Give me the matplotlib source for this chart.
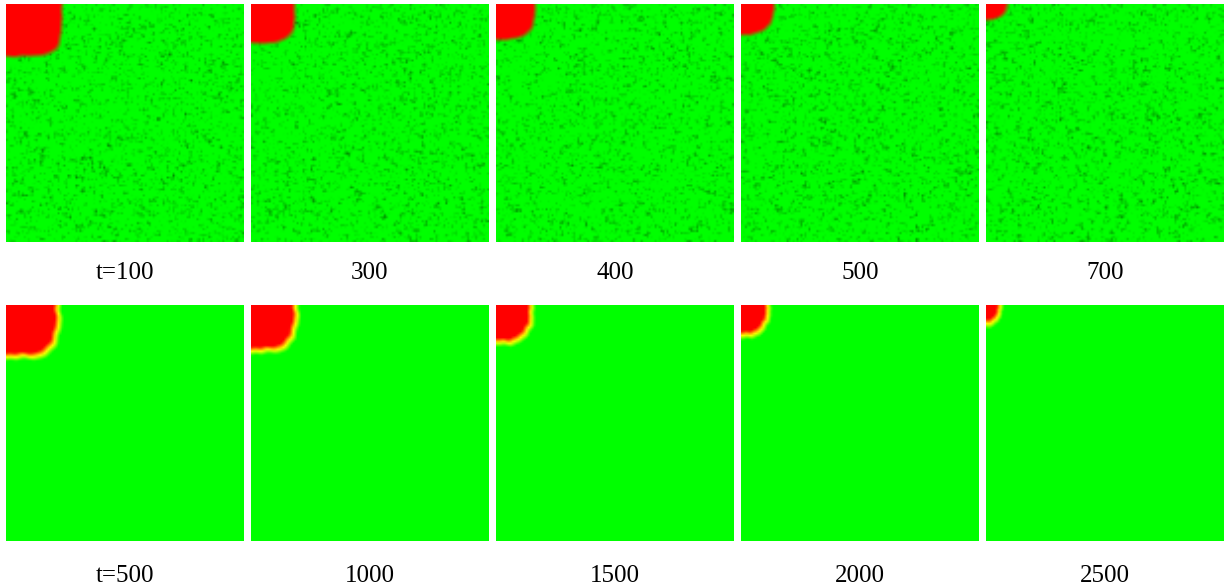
import numpy as np
import matplotlib
matplotlib.use("Agg")
import matplotlib.pyplot as plt

# ---- data ----
top_labels = ["t=100", "300", "400", "500", "700"]
top_rx = [0.235, 0.185, 0.165, 0.14, 0.09]     # red corner extent (fraction of panel width)
top_ry = [0.22, 0.165, 0.15, 0.13, 0.067]      # red corner extent (fraction of panel height)
top_p = [5.0, 4.0, 3.2, 2.6, 2.2]              # corner squareness

bot_labels = ["t=500", "1000", "1500", "2000", "2500"]
bot_rx = [0.22, 0.19, 0.15, 0.115, 0.06]
bot_ry = [0.22, 0.195, 0.16, 0.13, 0.08]
bot_p = [4.0, 3.5, 3.0, 2.6, 2.2]

N = 120
yy, xx = np.mgrid[0:N, 0:N]
X = (xx + 0.5) / N
Y = (yy + 0.5) / N
ang = np.arctan2(Y, X)
rng = np.random.default_rng(7)


def smooth(a, k=1):
    out = a.copy()
    for _ in range(k):
        out = (out + np.roll(out, 1, 0) + np.roll(out, -1, 0)
               + np.roll(out, 1, 1) + np.roll(out, -1, 1)) / 5.0
    return out


def corner_field(rx, ry, p, width, wav):
    d = ((X / rx) ** p + (Y / ry) ** p) ** (1.0 / p)
    ph = rng.uniform(0, 2 * np.pi, 4)
    pert = wav * (np.sin(9 * ang + ph[0]) * 0.5 + np.sin(17 * ang + ph[1]) * 0.35
                  + np.sin(27 * ang + ph[2]) * 0.25)
    d = d * (1 + pert)
    r = 0.5 * (rx + ry)
    u = np.clip((d - 1) * r * N / width + 0.5, 0, 1)
    return u


def top_image(rx, ry, p):
    u = corner_field(rx, ry, p, 2.5, 0.012)
    noise = rng.normal(0, 1, (N, N))
    noise = 0.6 * noise + 0.4 * smooth(noise, 1) * 2.0
    dark = np.clip(noise - 0.3, 0, None) * 0.17
    g = u * np.clip(1 - dark, 0.55, 1)
    r = 1 - u
    img = np.dstack([r, g, np.zeros_like(r)])
    return img


def bot_image(rx, ry, p):
    u = corner_field(rx, ry, p, 4.5, 0.025)
    r = np.clip(2 * (1 - u), 0, 1)
    g = np.clip(2 * u, 0, 1)
    img = np.dstack([r, g, np.zeros_like(r)])
    return img


W, H = 1228, 588
fig = plt.figure(figsize=(W / 100, H / 100), dpi=100)
lefts = [6, 251, 496, 741, 986]
pw = 238

for i in range(5):
    ax = fig.add_axes([lefts[i] / W, 1 - 242 / H, pw / W, 238 / H])
    ax.imshow(top_image(top_rx[i], top_ry[i], top_p[i]), interpolation="bilinear",
              aspect="auto")
    ax.axis("off")
    fig.text((lefts[i] + pw / 2) / W, 1 - 273 / H, top_labels[i],
             ha="center", va="center", fontsize=18, family="Liberation Serif")

    ax = fig.add_axes([lefts[i] / W, 1 - 541 / H, pw / W, 236 / H])
    ax.imshow(bot_image(bot_rx[i], bot_ry[i], bot_p[i]), interpolation="bilinear",
              aspect="auto")
    ax.axis("off")
    fig.text((lefts[i] + pw / 2) / W, 1 - 576 / H, bot_labels[i],
             ha="center", va="center", fontsize=18, family="Liberation Serif")

fig.savefig("out.png", dpi=100)
